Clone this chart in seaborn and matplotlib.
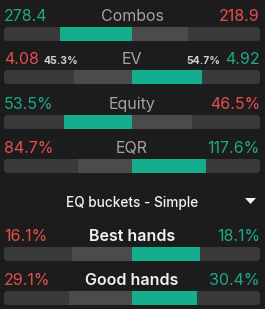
import numpy as np
import matplotlib
matplotlib.use("Agg")
import matplotlib.pyplot as plt
import seaborn as sns
from matplotlib.patches import FancyBboxPatch, Polygon

# values
labels = ["Combos", "EV", "Equity", "EQR", "Best hands", "Good hands"]
left_vals = [278.4, 4.08, 53.5, 84.7, 16.1, 29.1]
right_vals = [218.9, 4.92, 46.5, 117.6, 18.1, 30.4]
left_txt = ["278.4", "4.08", "53.5%", "84.7%", "16.1%", "29.1%"]
right_txt = ["218.9", "4.92", "46.5%", "117.6%", "18.1%", "30.4%"]
bucket_title = "EQ buckets - Simple"

BG = "#1c1c1c"
TRACK = "#3a3a3a"
LIGHT = "#4b4b4b"
TEAL = "#12ae8e"
TEAL_TXT = "#1fa887"
RED_TXT = "#e64e4e"
GREY_TXT = "#a3a3a3"
WHITE = "#f2f2f2"

sns.set_theme(style="dark")
plt.rcParams["font.family"] = ["Inter", "DejaVu Sans"]

W, H = 265, 309
fig = plt.figure(figsize=(W / 100, H / 100), dpi=100, facecolor=BG)
ax = fig.add_axes([0, 0, 1, 1])
ax.set_facecolor(BG)
ax.axis("off")

# x in share units: centre at pixel 132, half track 128 px
cx, half = 132, 128
ax.set_xlim(-cx / half, (W - cx) / half)
ax.set_ylim(H, 0)

rows_y = [34, 77, 122, 166, 254, 298]  # bar centres (px)
bar_h = 14
aspect = half  # y px per x unit

for i, lab in enumerate(labels):
    y = rows_y[i]
    lv, rv = left_vals[i], right_vals[i]
    tot = lv + rv
    ls, rs = lv / tot, rv / tot
    # rounded track
    track = FancyBboxPatch((-1, y - bar_h / 2), 2, bar_h,
                           boxstyle="round,pad=0,rounding_size=0.031",
                           mutation_aspect=aspect, fc=TRACK, ec="none", zorder=1)
    ax.add_patch(track)
    left_col = TEAL if lv >= rv else LIGHT
    right_col = TEAL if rv > lv else LIGHT
    ax.barh(y, -ls, height=bar_h, left=0, color=left_col, lw=0, zorder=2)
    ax.barh(y, rs, height=bar_h, left=0, color=right_col, lw=0, zorder=2)

    base = y - 13
    lc = TEAL_TXT if lv >= rv else RED_TXT
    rc = TEAL_TXT if rv > lv else RED_TXT
    ax.text(-cx / half + 4 / half, base, left_txt[i], color=lc, fontsize=11.5,
            ha="left", va="baseline")
    ax.text((W - cx) / half - 5 / half, base, right_txt[i], color=rc, fontsize=11.5,
            ha="right", va="baseline")
    if i < 4:
        ax.text(0, base, lab, color=GREY_TXT, fontsize=11.5, ha="center", va="baseline")
    else:
        ax.text(0, base, lab, color=WHITE, fontsize=11.5, fontweight="semibold",
                ha="center", va="baseline")
    if lab == "EV":
        ax.text(-cx / half + 43 / half, base, f"{ls * 100:.1f}%", color="#d0d0d0",
                fontsize=7.5, fontweight="bold", ha="left", va="baseline")
        ax.text((W - cx) / half - 45 / half, base, f"{rs * 100:.1f}%", color="#d0d0d0",
                fontsize=7.5, fontweight="bold", ha="right", va="baseline")

# section header with dropdown arrow
ax.text(0, 207, bucket_title, color=WHITE, fontsize=9.8, fontweight="medium",
        ha="center", va="baseline")
tri = Polygon([[245 / half - cx / half, 198], [256 / half - cx / half, 198],
               [250.5 / half - cx / half, 204]], closed=True, fc=WHITE, ec="none")
ax.add_patch(tri)

fig.savefig("out.png", dpi=100, facecolor=BG)
